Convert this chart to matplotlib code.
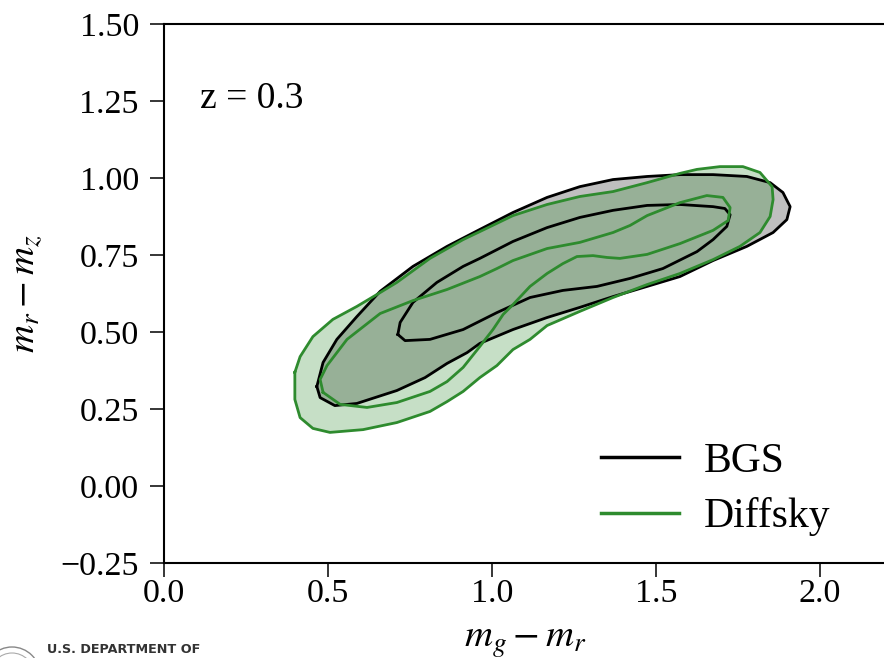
import numpy as np
import matplotlib
matplotlib.use("Agg")
import matplotlib.pyplot as plt
from matplotlib.lines import Line2D
from matplotlib.patches import Circle

# contour outlines (g-r, r-z)
bgs_outer_x = [0.466, 0.476, 0.521, 0.588, 0.710, 0.796, 0.863, 0.924, 0.963, 1.064, 1.168, 1.268, 1.369,
               1.473, 1.573, 1.674, 1.777, 1.857, 1.899, 1.909, 1.887, 1.848, 1.777, 1.674, 1.573, 1.473,
               1.369, 1.268, 1.168, 1.064, 0.963, 0.863, 0.759, 0.659, 0.588, 0.527, 0.485]
bgs_outer_y = [0.323, 0.287, 0.261, 0.268, 0.310, 0.352, 0.398, 0.433, 0.463, 0.508, 0.547, 0.580, 0.615,
               0.648, 0.680, 0.732, 0.778, 0.823, 0.865, 0.907, 0.953, 0.985, 1.005, 1.011, 1.011, 1.005,
               0.995, 0.972, 0.937, 0.888, 0.833, 0.778, 0.713, 0.632, 0.550, 0.476, 0.401]

bgs_inner_x = [0.713, 0.735, 0.811, 0.912, 1.015, 1.116, 1.216, 1.320, 1.421, 1.521, 1.625, 1.674, 1.716,
               1.726, 1.710, 1.674, 1.573, 1.473, 1.369, 1.268, 1.168, 1.064, 0.963, 0.912, 0.832, 0.759,
               0.720]
bgs_inner_y = [0.492, 0.472, 0.476, 0.508, 0.563, 0.612, 0.635, 0.648, 0.674, 0.706, 0.761, 0.800, 0.843,
               0.881, 0.901, 0.907, 0.914, 0.911, 0.895, 0.872, 0.839, 0.794, 0.739, 0.713, 0.661, 0.596,
               0.531]

dsky_outer_x = [0.399, 0.399, 0.415, 0.454, 0.506, 0.607, 0.710, 0.811, 0.863, 0.912, 0.963, 1.015, 1.064,
                1.116, 1.168, 1.268, 1.369, 1.473, 1.573, 1.674, 1.756, 1.817, 1.848, 1.857, 1.854, 1.817,
                1.765, 1.695, 1.625, 1.573, 1.473, 1.369, 1.268, 1.168, 1.064, 0.963, 0.912, 0.811, 0.710,
                0.659, 0.588, 0.515, 0.454, 0.415]
dsky_outer_y = [0.369, 0.281, 0.222, 0.187, 0.174, 0.183, 0.206, 0.242, 0.274, 0.307, 0.352, 0.391, 0.443,
                0.476, 0.521, 0.567, 0.612, 0.654, 0.690, 0.735, 0.778, 0.823, 0.875, 0.930, 0.972, 1.018,
                1.037, 1.037, 1.028, 1.015, 0.985, 0.956, 0.940, 0.914, 0.878, 0.826, 0.800, 0.739, 0.661,
                0.628, 0.583, 0.541, 0.485, 0.420]

dsky_inner_x = [0.485, 0.537, 0.619, 0.710, 0.811, 0.863, 0.912, 0.963, 1.003, 1.034, 1.064, 1.116, 1.168,
                1.216, 1.259, 1.308, 1.351, 1.390, 1.473, 1.573, 1.674, 1.720, 1.726, 1.704, 1.655, 1.573,
                1.473, 1.421, 1.369, 1.268, 1.168, 1.064, 1.015, 0.963, 0.863, 0.759, 0.659, 0.558, 0.497,
                0.476]
dsky_inner_y = [0.304, 0.265, 0.255, 0.271, 0.307, 0.339, 0.385, 0.453, 0.508, 0.557, 0.589, 0.648, 0.690,
                0.722, 0.745, 0.748, 0.742, 0.739, 0.752, 0.787, 0.830, 0.862, 0.904, 0.937, 0.943, 0.920,
                0.878, 0.846, 0.823, 0.791, 0.771, 0.732, 0.706, 0.680, 0.638, 0.602, 0.560, 0.476, 0.391,
                0.346]

xticks = [0.0, 0.5, 1.0, 1.5, 2.0]
yticks = [-0.25, 0.0, 0.25, 0.5, 0.75, 1.0, 1.25, 1.5]
labels = ["BGS", "Diffsky"]
redshift_label = "z = 0.3"

green = "#2e8b2e"

plt.rcParams["font.family"] = ["Liberation Serif", "DejaVu Serif"]
plt.rcParams["mathtext.fontset"] = "stix"

fig = plt.figure(figsize=(8.84, 6.58), dpi=100)
ax = fig.add_axes([0.1855, 0.1444, 0.8163, 0.8191])


def closed(xs, ys):
    return list(xs) + [xs[0]], list(ys) + [ys[0]]


# fills
ax.fill(bgs_outer_x, bgs_outer_y, color="black", alpha=0.25, lw=0)
ax.fill(dsky_outer_x, dsky_outer_y, color=green, alpha=0.27, lw=0)

# contour lines
for xs, ys in [(bgs_outer_x, bgs_outer_y), (bgs_inner_x, bgs_inner_y)]:
    cx, cy = closed(xs, ys)
    ax.plot(cx, cy, color="black", lw=2.0, solid_joinstyle="round")
for xs, ys in [(dsky_outer_x, dsky_outer_y), (dsky_inner_x, dsky_inner_y)]:
    cx, cy = closed(xs, ys)
    ax.plot(cx, cy, color=green, lw=2.0, solid_joinstyle="round")

ax.set_xlim(0, 2.2)
ax.set_ylim(-0.25, 1.5)
ax.set_xticks(xticks)
ax.set_yticks(yticks)
ax.set_xticklabels(["%.1f" % t for t in xticks])
ax.set_yticklabels([("%.2f" % t).replace("-", "\u2212") for t in yticks])
ax.tick_params(axis="both", direction="out", length=10, width=1.1, labelsize=24.5)
ax.tick_params(axis="y", pad=8)
ax.tick_params(axis="x", pad=1)
for s in ax.spines.values():
    s.set_linewidth(1.5)

ax.set_xlabel(r"$m_g - m_r$", fontsize=28, labelpad=10)
ax.set_ylabel(r"$m_r - m_z$", fontsize=28)
ax.yaxis.set_label_coords(-0.165, 0.5)

ax.text(0.05, 0.844, redshift_label, transform=ax.transAxes, fontsize=27, va="baseline")

handles = [Line2D([], [], color="black", lw=2.5), Line2D([], [], color=green, lw=2.5)]
ax.legend(handles, labels, loc="lower right", bbox_to_anchor=(0.975, -0.02), frameon=False,
          fontsize=30, handlelength=1.85, handletextpad=0.6, labelspacing=0.4)

# slide footer logo
fig.add_artist(Circle((0.12, -0.17), 0.28, transform=fig.dpi_scale_trans, fill=False,
                      ec="#888888", lw=1.0, clip_on=False))
fig.add_artist(Circle((0.12, -0.17), 0.22, transform=fig.dpi_scale_trans, fill=False,
                      ec="#aaaaaa", lw=0.8, clip_on=False))
fig.text(47 / 884, 2 / 658, "U.S. DEPARTMENT OF", family="DejaVu Sans", fontsize=9.2,
         fontweight="bold", color="#333333", va="bottom", ha="left")

fig.savefig("out.png", dpi=100)
